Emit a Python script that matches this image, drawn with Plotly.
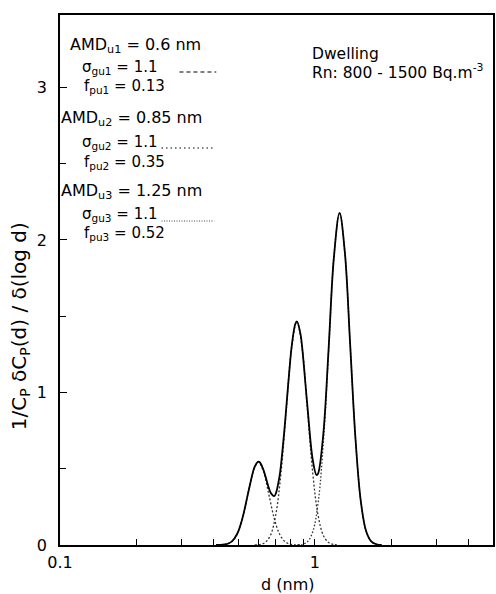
import plotly.graph_objects as go

# ---- data ----
d_mode1 = [0.4098, 0.4298, 0.4508, 0.4728, 0.4959, 0.5201, 0.5455, 0.5721, 0.6000, 0.6293,
           0.6600, 0.6922, 0.7260, 0.7614, 0.7986, 0.8376, 0.8785]
y_mode1 = [0.0002, 0.0012, 0.0060, 0.0239, 0.0736, 0.1767, 0.3300, 0.4802, 0.5441, 0.4802,
           0.3300, 0.1767, 0.0736, 0.0239, 0.0060, 0.0012, 0.0002]

d_mode2 = [0.5806, 0.6089, 0.6386, 0.6698, 0.7025, 0.7368, 0.7727, 0.8104, 0.8500, 0.8915,
           0.9350, 0.9806, 1.0285, 1.0787, 1.1314, 1.1866, 1.2445]
y_mode2 = [0.0005, 0.0032, 0.0163, 0.0644, 0.1983, 0.4756, 0.8886, 1.2929, 1.4650, 1.2929,
           0.8886, 0.4756, 0.1983, 0.0644, 0.0163, 0.0032, 0.0005]

d_mode3 = [0.8538, 0.8954, 0.9391, 0.9850, 1.0331, 1.0835, 1.1364, 1.1918, 1.2500, 1.3110,
           1.3750, 1.4421, 1.5125, 1.5863, 1.6637, 1.7450, 1.8301]
y_mode3 = [0.0007, 0.0048, 0.0242, 0.0956, 0.2946, 0.7066, 1.3202, 1.9208, 2.1766, 1.9208,
           1.3202, 0.7066, 0.2946, 0.0956, 0.0242, 0.0048, 0.0007]

d_total = [0.4098, 0.4298, 0.4508, 0.4728, 0.4959, 0.5201, 0.5455, 0.5721, 0.5806, 0.6000,
           0.6089, 0.6293, 0.6386, 0.6600, 0.6698, 0.6922, 0.7025, 0.7260, 0.7368, 0.7614,
           0.7727, 0.7986, 0.8104, 0.8376, 0.8500, 0.8785, 0.8915, 0.9350, 0.9806, 1.0150,
           1.0285, 1.0787, 1.1314, 1.1866, 1.2500, 1.3110, 1.3750, 1.4421, 1.5125, 1.5863,
           1.6637, 1.7450, 1.8301]
y_total = [0.0002, 0.0012, 0.0060, 0.0239, 0.0736, 0.1767, 0.3300, 0.4805, 0.5131, 0.5460,
           0.5409, 0.4903, 0.4556, 0.3733, 0.3439, 0.3206, 0.3368, 0.4464, 0.5291, 0.7763,
           0.9047, 1.1887, 1.2967, 1.4488, 1.4663, 1.3826, 1.2970, 0.9096, 0.5607, 0.4591,
           0.4666, 0.7229, 1.2754, 1.8781, 2.1770, 1.9208, 1.3202, 0.7066, 0.2946, 0.0956,
           0.0242, 0.0048, 0.0007]

x_tickvals = [0.1, 1]
x_ticktext = ["0.1", "1"]
x_minor = [0.2, 0.3, 0.4, 0.5, 0.6, 0.7, 0.8, 0.9, 2, 3, 4]
y_tickvals = [0, 1, 2, 3]
y_minor = [0.5, 1.5, 2.5]

mode_labels = [
    ("AMD<sub>u1</sub> = 0.6 nm", "σ<sub>gu1</sub> = 1.1", "f<sub>pu1</sub> = 0.13"),
    ("AMD<sub>u2</sub> = 0.85 nm", "σ<sub>gu2</sub> = 1.1", "f<sub>pu2</sub> = 0.35"),
    ("AMD<sub>u3</sub> = 1.25 nm", "σ<sub>gu3</sub> = 1.1", "f<sub>pu3</sub> = 0.52"),
]

# ---- layout geometry (pixels) ----
W, H = 496, 594
L, R, T, B = 60, 495, 15, 545
FONT = "DejaVu Sans, Arial, sans-serif"


def px(x):
    return (x - L) / (R - L)


def py(y):
    return (B - y) / (B - T)


fig = go.Figure()
mode_dash = ["2px,2px", "2px,2px", "1.5px,2px"]
for dx, dy, ds in [(d_mode1, y_mode1, mode_dash[0]), (d_mode2, y_mode2, mode_dash[1]),
                   (d_mode3, y_mode3, mode_dash[2])]:
    fig.add_trace(go.Scatter(x=dx, y=dy, mode="lines",
                             line=dict(color="#333333", width=1.3, dash=ds, shape="spline"),
                             showlegend=False, hoverinfo="skip"))
fig.add_trace(go.Scatter(x=d_total, y=y_total, mode="lines",
                         line=dict(color="black", width=1.8, shape="spline"),
                         showlegend=False))

ann = []
fs = 16
# mode text blocks
block_pos = [
    ((68, 46), (80, 68), (82, 87)),
    ((59, 119), (80, 143), (82, 162)),
    ((59, 191), (80, 214), (82, 233)),
]
for labels, poss in zip(mode_labels, block_pos):
    for i, (txt, (x0, y0)) in enumerate(zip(labels, poss)):
        ann.append(dict(x=px(x0), y=py(y0), xref="paper", yref="paper", text=txt,
                        showarrow=False, xanchor="left", yanchor="middle",
                        font=dict(family=FONT, size=fs if i == 0 else 15, color="black")))

ann.append(dict(x=px(311), y=py(54), xref="paper", yref="paper", text="Dwelling",
                showarrow=False, xanchor="left", yanchor="middle",
                font=dict(family=FONT, size=15.5, color="black")))
ann.append(dict(x=px(311), y=py(72), xref="paper", yref="paper",
                text="Rn: 800 - 1500 Bq.m<sup>-3</sup>",
                showarrow=False, xanchor="left", yanchor="middle",
                font=dict(family=FONT, size=15.5, color="black")))
# axis titles
ann.append(dict(x=px(289), y=py(584), xref="paper", yref="paper", text="d (nm)",
                showarrow=False, xanchor="center", yanchor="middle",
                font=dict(family=FONT, size=fs, color="black")))
ann.append(dict(x=px(20), y=py(326), xref="paper", yref="paper",
                text="1/C<sub>P</sub> δC<sub>P</sub>(d) / δ(log d)", textangle=-90,
                showarrow=False, xanchor="center", yanchor="middle",
                font=dict(family=FONT, size=20, color="black")))

shapes = [
    dict(type="line", xref="paper", yref="paper", x0=px(180), x1=px(217), y0=py(72), y1=py(72),
         line=dict(color="black", width=1, dash="4px,3px")),
    dict(type="line", xref="paper", yref="paper", x0=px(162), x1=px(215), y0=py(148), y1=py(148),
         line=dict(color="black", width=1, dash="1.5px,3px")),
    dict(type="line", xref="paper", yref="paper", x0=px(162), x1=px(215), y0=py(221), y1=py(221),
         line=dict(color="#444444", width=1, dash="1px,1.5px")),
]

fig.update_layout(
    width=W, height=H,
    margin=dict(l=L, r=W - R, t=T, b=H - B),
    paper_bgcolor="white", plot_bgcolor="white",
    font=dict(family=FONT, size=fs, color="black"),
    annotations=ann, shapes=shapes, showlegend=False,
    xaxis=dict(type="log", range=[-1, 0.69897], tickvals=x_tickvals, ticktext=x_ticktext,
               ticks="inside", ticklen=6, tickwidth=1.3, tickcolor="black",
               minor=dict(tickvals=x_minor, ticks="inside", ticklen=6, tickwidth=1.3,
                          tickcolor="black", showgrid=False),
               showline=True, linecolor="black", linewidth=1.5, mirror=True,
               showgrid=False, zeroline=False, ticklabelstandoff=2,
               tickfont=dict(family=FONT, size=fs, color="black")),
    yaxis=dict(range=[0, 3.475], tickvals=y_tickvals,
               ticks="inside", ticklen=7, tickwidth=1.3, tickcolor="black",
               minor=dict(tickvals=y_minor, ticks="inside", ticklen=6, tickwidth=1.3,
                          tickcolor="black", showgrid=False),
               showline=True, linecolor="black", linewidth=1.5, mirror=True,
               showgrid=False, zeroline=False, ticklabelstandoff=8,
               tickfont=dict(family=FONT, size=fs, color="black")),
)

fig.write_html("out.html")
